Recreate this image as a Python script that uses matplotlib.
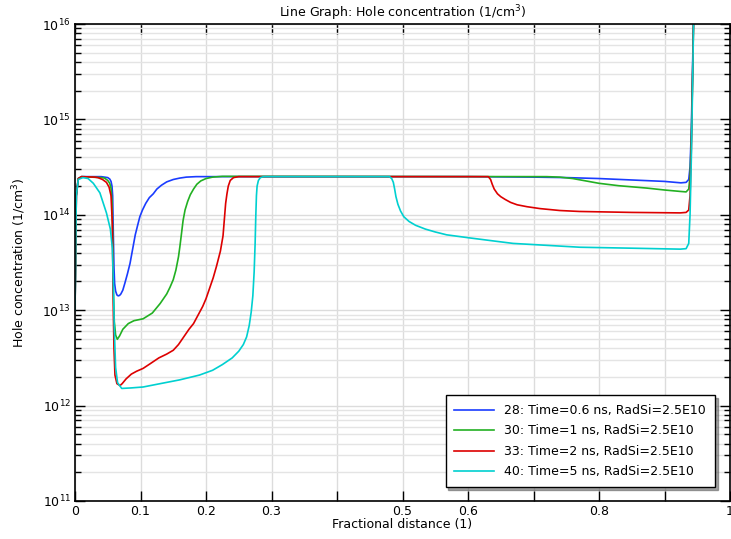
import numpy as np
from matplotlib import pyplot as plt
from matplotlib.ticker import LogLocator, FixedLocator, NullFormatter

# values: x = fractional distance, y = log10(hole concentration)
x_28 = [0, 0.002, 0.005, 0.01, 0.04, 0.05, 0.053, 0.055, 0.0565, 0.0575, 0.0585, 0.0595, 0.0605,
        0.062, 0.064, 0.066, 0.068, 0.070, 0.073, 0.076, 0.080, 0.084, 0.088, 0.092, 0.096,
        0.099, 0.103, 0.108, 0.1135, 0.1195, 0.125, 0.132, 0.14, 0.15, 0.16, 0.17, 0.185,
        0.60, 0.70, 0.75, 0.80, 0.85, 0.90, 0.925, 0.933, 0.937, 0.939, 0.941, 0.943, 0.945]
y_28 = [13.0, 14.2, 14.38, 14.40, 14.40, 14.39, 14.375, 14.35, 14.30, 14.2, 13.8, 13.45, 13.28,
        13.2, 13.16, 13.15, 13.155, 13.17, 13.21, 13.28, 13.38, 13.49, 13.64, 13.79, 13.90,
        13.98, 14.05, 14.12, 14.18, 14.22, 14.27, 14.31, 14.345, 14.37, 14.385, 14.395, 14.40,
        14.40, 14.395, 14.39, 14.38, 14.365, 14.35, 14.335, 14.34, 14.37, 14.5, 14.9, 15.6, 16.3]

x_30 = [0, 0.002, 0.005, 0.01, 0.04, 0.045, 0.05, 0.053, 0.055, 0.0565, 0.0575, 0.0585, 0.060,
        0.062, 0.0646, 0.068, 0.073, 0.0814, 0.09, 0.104, 0.118, 0.130, 0.14, 0.145, 0.15,
        0.154, 0.158, 0.160, 0.162, 0.165, 0.168, 0.172, 0.176, 0.181, 0.186, 0.192, 0.2, 0.21,
        0.225, 0.72, 0.74, 0.76, 0.78, 0.80, 0.83, 0.873, 0.90, 0.924, 0.933, 0.937, 0.939,
        0.941, 0.943, 0.945]
y_30 = [13.0, 14.2, 14.38, 14.40, 14.39, 14.385, 14.36, 14.33, 14.28, 14.15, 13.8, 13.2, 12.88,
        12.74, 12.695, 12.73, 12.80, 12.86, 12.89, 12.91, 12.97, 13.07, 13.17, 13.24, 13.32,
        13.42, 13.56, 13.66, 13.77, 13.94, 14.05, 14.14, 14.21, 14.27, 14.32, 14.355, 14.38, 14.395,
        14.403, 14.40, 14.395, 14.38, 14.355, 14.33, 14.305, 14.28, 14.26, 14.245, 14.24, 14.27,
        14.4, 14.8, 15.5, 16.3]

x_33 = [0, 0.002, 0.005, 0.01, 0.03, 0.035, 0.042, 0.048, 0.052, 0.055, 0.057, 0.0585, 0.0595,
        0.061, 0.064, 0.0687, 0.072, 0.078, 0.086, 0.094, 0.104, 0.115, 0.128, 0.14, 0.150,
        0.158, 0.166, 0.174, 0.181, 0.188, 0.195, 0.2, 0.206, 0.211, 0.216, 0.222, 0.226, 0.228,
        0.230, 0.232, 0.234, 0.237, 0.242, 0.25, 0.631, 0.6345, 0.637, 0.640, 0.645, 0.650,
        0.657, 0.665, 0.675, 0.69, 0.71, 0.74, 0.77, 0.85, 0.924, 0.933, 0.937, 0.939, 0.941,
        0.943, 0.945]
y_33 = [13.0, 14.2, 14.38, 14.40, 14.395, 14.39, 14.37, 14.34, 14.29, 14.2, 13.9, 13.0, 12.6,
        12.32, 12.23, 12.21, 12.23, 12.28, 12.33, 12.36, 12.39, 12.44, 12.50, 12.54, 12.58,
        12.64, 12.72, 12.80, 12.86, 12.95, 13.04, 13.12, 13.24, 13.34, 13.46, 13.62, 13.78, 13.95,
        14.12, 14.22, 14.30, 14.36, 14.39, 14.40, 14.40, 14.37, 14.32, 14.27, 14.22, 14.19,
        14.16, 14.13, 14.105, 14.085, 14.065, 14.045, 14.035, 14.025, 14.02, 14.025, 14.05, 14.2, 14.7,
        15.5, 16.3]

x_40 = [0, 0.002, 0.005, 0.012, 0.02, 0.028, 0.038, 0.048, 0.054, 0.057, 0.0585, 0.060, 0.062,
        0.065, 0.0713, 0.085, 0.104, 0.13, 0.16, 0.19, 0.21, 0.225, 0.24, 0.25, 0.257, 0.262,
        0.266, 0.269, 0.2715, 0.2735, 0.275, 0.276, 0.277, 0.278, 0.280, 0.283, 0.288, 0.48,
        0.4835, 0.486, 0.488, 0.490, 0.493, 0.497, 0.502, 0.51, 0.52, 0.535, 0.55, 0.5675, 0.6,
        0.64, 0.669, 0.72, 0.771, 0.85, 0.924, 0.933, 0.937, 0.939, 0.941, 0.943, 0.945]
y_40 = [13.0, 14.2, 14.37, 14.39, 14.38, 14.33, 14.23, 14.02, 13.85, 13.65, 13.3, 12.8, 12.4,
        12.24, 12.18, 12.185, 12.195, 12.23, 12.27, 12.32, 12.37, 12.43, 12.5, 12.57, 12.64, 12.72,
        12.84, 12.98, 13.15, 13.4, 13.7, 13.98, 14.2, 14.30, 14.36, 14.39, 14.40, 14.40,
        14.38, 14.34, 14.27, 14.19, 14.11, 14.04, 13.98, 13.93, 13.89, 13.85, 13.82, 13.79, 13.76,
        13.725, 13.70, 13.68, 13.66, 13.65, 13.64, 13.645, 13.7, 14.0, 14.6, 15.4, 16.3]

labels = ['28: Time=0.6 ns, RadSi=2.5E10', '30: Time=1 ns, RadSi=2.5E10',
          '33: Time=2 ns, RadSi=2.5E10', '40: Time=5 ns, RadSi=2.5E10']
colors = ['#1a3cff', '#22b022', '#dd0000', '#00d0d0']

x_ticks = [0, 0.1, 0.2, 0.3, 0.4, 0.5, 0.6, 0.7, 0.8, 0.9, 1.0]
x_ticklabels = ['0', '0.1', '0.2', '0.3', '', '0.5', '0.6', '', '0.8', '', '1']

fig = plt.figure(figsize=(7.31, 5.39), dpi=100)
ax = fig.add_axes([75 / 731, 38 / 539, 655 / 731, 477 / 539])

series = [(x_28, y_28), (x_30, y_30), (x_33, y_33), (x_40, y_40)]
for (xs, ys), lab, c in zip(series, labels, colors):
    ax.plot(xs, np.power(10.0, ys), color=c, lw=1.2, label=lab)

ax.set_yscale('log')
ax.set_xlim(0, 1)
ax.set_ylim(1e11, 1e16)
ax.xaxis.set_major_locator(FixedLocator(x_ticks))
ax.set_xticklabels(x_ticklabels)
ax.yaxis.set_major_locator(LogLocator(base=10, numticks=10))
ax.yaxis.set_minor_locator(LogLocator(base=10, subs=np.arange(2, 10), numticks=20))
ax.yaxis.set_minor_formatter(NullFormatter())

ax.grid(True, which='major', color='#dcdcdc', lw=1.0)
ax.grid(True, which='minor', axis='y', color='#e4e4e4', lw=1.0)
ax.set_axisbelow(True)

ax.tick_params(which='both', direction='in', top=True, right=True, labelsize=9, pad=3)
ax.tick_params(which='major', length=7, width=1.0)
ax.tick_params(which='minor', length=4.5, width=1.0)
for s in ax.spines.values():
    s.set_linewidth(1.2)

ax.set_title('Line Graph: Hole concentration (1/cm$^3$)', fontsize=9, pad=5)
ax.set_xlabel('Fractional distance (1)', fontsize=9, labelpad=0)
ax.set_ylabel('Hole concentration (1/cm$^3$)', fontsize=9, labelpad=10)

leg = ax.legend(loc='lower right', bbox_to_anchor=(0.977, 0.029), borderaxespad=0,
                fontsize=9, fancybox=False, shadow=True, framealpha=1, edgecolor='black',
                handlelength=3.2, labelspacing=0.6, borderpad=0.7)
leg.get_frame().set_linewidth(1.0)

fig.savefig('out.png', dpi=100)
